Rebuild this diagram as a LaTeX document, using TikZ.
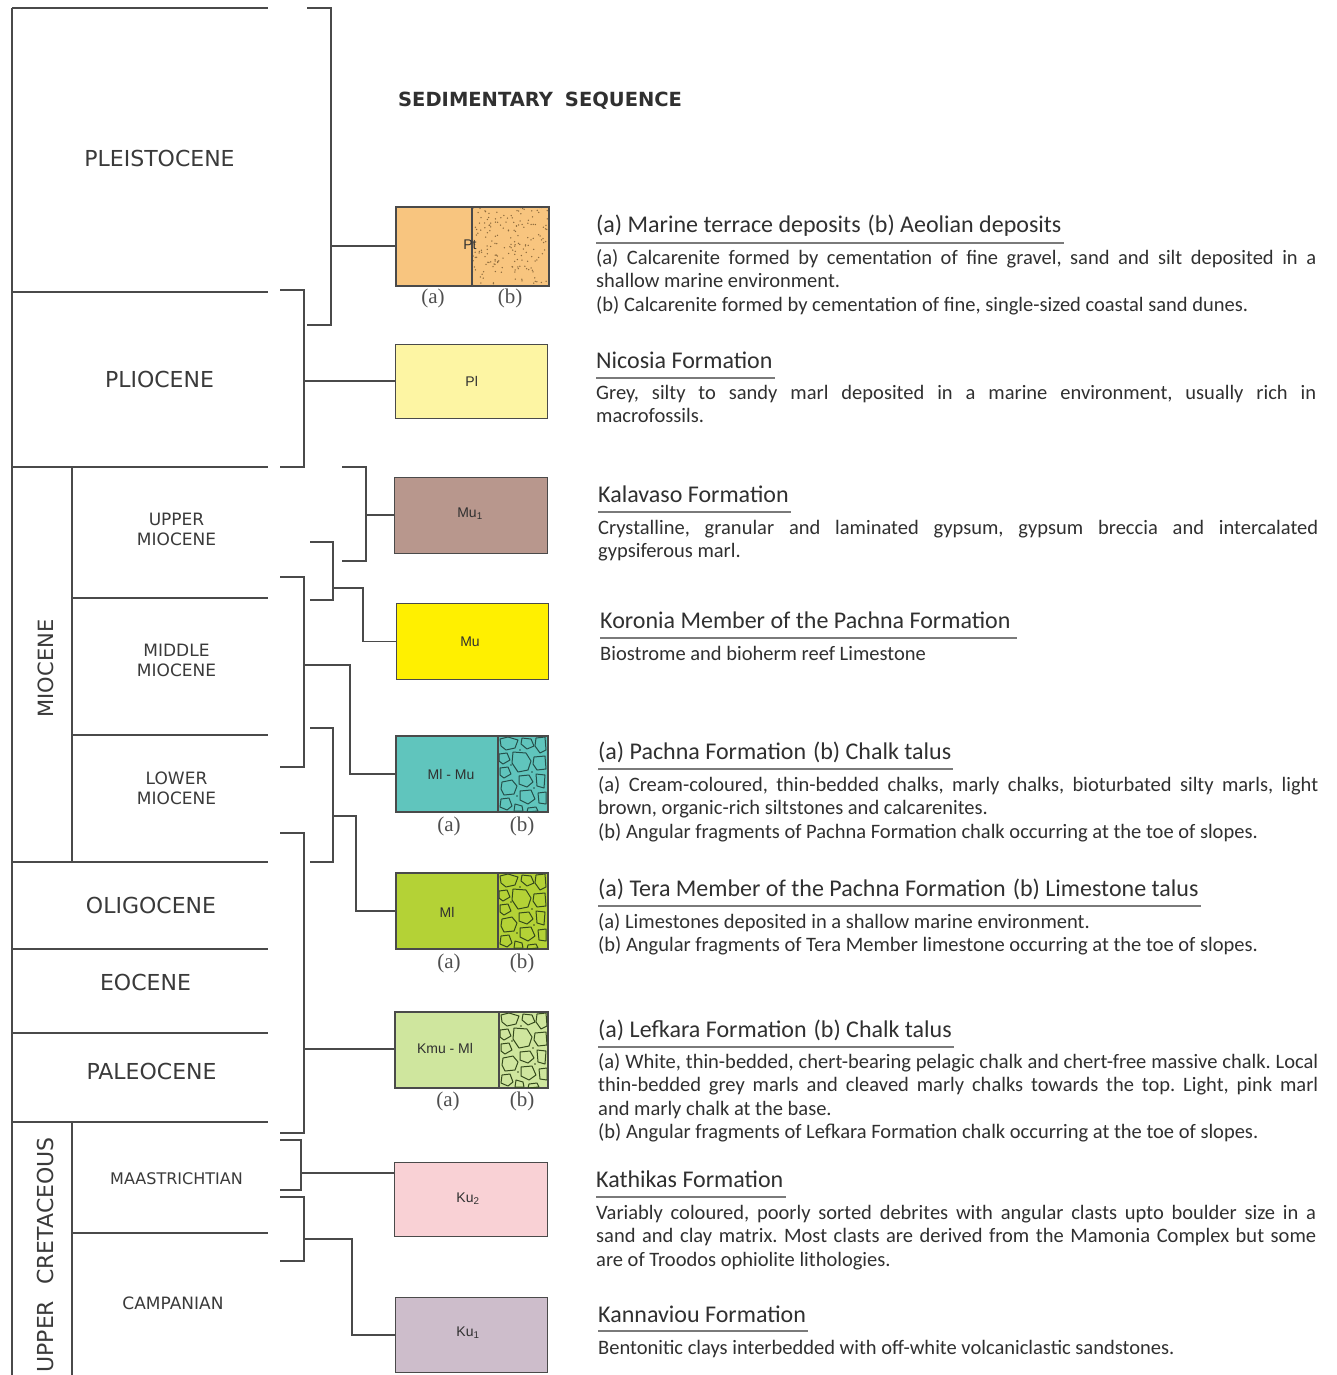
\documentclass[tikz,border=0pt]{standalone}
\usepackage{fontspec}
\setmainfont{Carlito}
\newfontfamily\chartfont{DejaVu Sans}
\newfontfamily\boxfont{Liberation Sans}
\newfontfamily\abfont{Liberation Serif}
\usetikzlibrary{calc}
\frenchspacing
\definecolor{ink}{HTML}{303030}
\definecolor{chartink}{HTML}{3A3A3A}
\definecolor{linegray}{HTML}{4A4A4A}
\definecolor{ulgray}{HTML}{7A7A7A}
\definecolor{cPt}{HTML}{F8C57F}
\definecolor{cPl}{HTML}{FDF5A3}
\definecolor{cMuA}{HTML}{B8978D}
\definecolor{cMu}{HTML}{FFF000}
\definecolor{cMlMu}{HTML}{60C5BD}
\definecolor{cMl}{HTML}{B4D236}
\definecolor{cKmu}{HTML}{CFE69E}
\definecolor{cKuB}{HTML}{F9D1D5}
\definecolor{cKuA}{HTML}{CDBDCB}
\definecolor{dotbrown}{HTML}{8C6A3C}
\definecolor{brTeal}{HTML}{25504B}
\definecolor{brGreen}{HTML}{344A1C}

\newcommand\mybreccia[1]{%
  \begin{scope}[draw=#1, line width=1pt, line join=round]
    \draw (2,3)--(10,1)--(20,4)--(17,12)--(8,14)--(3,10)--cycle;
    \draw (24,2)--(33,3)--(36,10)--(29,13)--(23,8)--cycle;
    \draw (38,2)--(47,1)--(48,14)--(42,17)--(37,10)--cycle;
    \draw (1,18)--(9,17)--(12,24)--(5,28)--(1,25)--cycle;
    \draw (15,16)--(28,17)--(33,25)--(30,34)--(20,36)--(14,27)--cycle;
    \draw (36,21)--(47,20)--(48,33)--(39,34)--(35,28)--cycle;
    \draw (2,32)--(10,31)--(13,38)--(6,42)--(2,39)--cycle;
    \draw (4,46)--(14,44)--(19,50)--(16,58)--(6,59)--(3,53)--cycle;
    \draw (21,40)--(31,39)--(35,46)--(29,51)--(21,48)--cycle;
    \draw (38,38)--(47,39)--(46,52)--(39,50)--cycle;
    \draw (22,55)--(33,54)--(37,63)--(30,68)--(22,64)--cycle;
    \draw (40,57)--(48,56)--(48,68)--(41,67)--cycle;
    \draw (3,63)--(11,62)--(14,70)--(9,74)--(2,71)--cycle;
    \draw (17,68)--(24,70)--(25,75)--(16,75)--cycle;
    \draw (30,72)--(38,71)--(40,75)--(29,76)--cycle;
    \fill[#1] (13,29) circle (0.8pt) (34,36) circle (0.8pt) (19,60) circle (0.8pt) (36,52) circle (0.8pt) (22,14) circle (0.8pt);
  \end{scope}}

\begin{document}
\begin{tikzpicture}[x=1pt,y=-1pt,
  chartline/.style={draw=linegray, line width=1.6pt},
  conn/.style={draw=linegray, line width=1.5pt},
  bigera/.style={font=\chartfont\fontsize{22}{26}\selectfont, text=chartink, inner sep=0pt},
  smallera/.style={font=\chartfont\fontsize{17}{20}\selectfont, text=chartink, inner sep=0pt, align=center},
  unitbox/.style={draw=linegray, line width=1.3pt, anchor=north west, inner sep=0pt},
  boxlabel/.style={font=\boxfont\fontsize{14}{16}\selectfont, text=ink, inner sep=0pt},
  ablabel/.style={font=\abfont\fontsize{21}{24}\selectfont, text=ink!85, inner sep=0pt},
  headtext/.style={anchor=base west, inner sep=0pt, font=\fontsize{24}{28}\selectfont, text=ink},
  bodytext/.style={anchor=base west, inner sep=0pt, text width=720pt, align=justify, font=\fontsize{20.5}{23.5}\selectfont, text=ink},
  uline/.style={draw=ulgray, line width=1.1pt}
]
\useasboundingbox (0,0) rectangle (1336,1375);
\clip (0,0) rectangle (1336,1375);
\fill[white] (0,0) rectangle (1336,1375);

% ---------------- time scale ----------------
\draw[chartline] (12,8) -- (12,1380);
\foreach \yy in {8,292,467,862,949,1033,1122}{\draw[chartline] (12,\yy) -- (268,\yy);}
\draw[chartline] (72,467) -- (72,862);
\draw[chartline] (72,1122) -- (72,1380);
\foreach \yy in {598,735,1233}{\draw[chartline] (72,\yy) -- (268,\yy);}

\node[bigera] (pleist) at (159.5,158.5) {PLEISTOCENE};
\node[bigera] (plio) at (159.5,379.5) {PLIOCENE};
\node[smallera] (umio) at (176.5,529.5) {UPPER\\MIOCENE};
\node[smallera] (mmio) at (176.5,660.5) {MIDDLE\\MIOCENE};
\node[smallera] (lmio) at (176.5,788) {LOWER\\MIOCENE};
\node[bigera, font=\chartfont\fontsize{21}{25}\selectfont, rotate=90] (mio) at (46,668.5) {MIOCENE};
\node[bigera] (oligo) at (151,905) {OLIGOCENE};
\node[bigera] (eoc) at (145.5,982) {EOCENE};
\node[bigera] (paleo) at (151.5,1071) {PALEOCENE};
\node[smallera, font=\chartfont\fontsize{16}{20}\selectfont] (maas) at (176.5,1179) {MAASTRICHTIAN};
\node[smallera] (camp) at (173,1303) {CAMPANIAN};
\node[bigera, rotate=90, anchor=east] (ucret) at (45,1137) {UPPER\hspace{16pt}CRETACEOUS};

% ---------------- title ----------------
\node[anchor=base west, inner sep=0pt, font=\chartfont\bfseries\fontsize{19.5}{22}\selectfont, text=ink] (title) at (398,107) {SEDIMENTARY\hspace{12pt}SEQUENCE};

% ---------------- unit boxes ----------------
\node[unitbox, fill=cPt, minimum width=152pt, minimum height=78pt] (Pt) at (396,207) {};
\begin{scope}
  \clip (472,207) rectangle (548,285);
  \pgfmathsetseed{11}
  \foreach \i in {1,...,190}{
    \pgfmathsetmacro\dx{472+rnd*76}
    \pgfmathsetmacro\dy{207+rnd*78}
    \fill[dotbrown] (\dx,\dy) circle (0.75pt);
  }
\end{scope}
\draw[linegray, line width=1.3pt] (472,207) -- (472,285);
\draw[linegray, line width=1.3pt] (Pt.north west) rectangle (Pt.south east);
\node[boxlabel] at (470,245) {Pt};

\node[unitbox, fill=cPl, minimum width=152pt, minimum height=74pt] (Pl) at (395,344) {};
\node[boxlabel] at (Pl.center) {Pl};

\node[unitbox, fill=cMuA, minimum width=153pt, minimum height=76pt] (MuA) at (394,477) {};
\node[boxlabel] at (470,514) {Mu\textsubscript{1}};

\node[unitbox, fill=cMu, minimum width=152pt, minimum height=76pt] (Mu) at (396,603) {};
\node[boxlabel] at (470,642) {Mu};

\node[unitbox, fill=cMlMu, minimum width=151pt, minimum height=75pt] (MlMu) at (396,736) {};
\begin{scope}
  \clip (498,736) rectangle (547,811);
  \begin{scope}[shift={(498,736)}]\mybreccia{brTeal}\end{scope}
\end{scope}
\draw[linegray, line width=1.3pt] (498,736) -- (498,811);
\draw[linegray, line width=1.3pt] (MlMu.north west) rectangle (MlMu.south east);
\node[boxlabel] at (451,774) {Ml - Mu};

\node[unitbox, fill=cMl, minimum width=151pt, minimum height=75pt] (Ml) at (396,873) {};
\begin{scope}
  \clip (498,873) rectangle (547,948);
  \begin{scope}[shift={(498,873)}]\mybreccia{brGreen}\end{scope}
\end{scope}
\draw[linegray, line width=1.3pt] (498,873) -- (498,948);
\draw[linegray, line width=1.3pt] (Ml.north west) rectangle (Ml.south east);
\node[boxlabel] at (447,912) {Ml};

\node[unitbox, fill=cKmu, minimum width=152pt, minimum height=75pt] (Kmu) at (395,1012) {};
\begin{scope}
  \clip (499,1012) rectangle (547,1087);
  \begin{scope}[shift={(499,1012)}]\mybreccia{brGreen}\end{scope}
\end{scope}
\draw[linegray, line width=1.3pt] (499,1012) -- (499,1087);
\draw[linegray, line width=1.3pt] (Kmu.north west) rectangle (Kmu.south east);
\node[boxlabel] at (445,1048) {Kmu - Ml};

\node[unitbox, fill=cKuB, minimum width=153pt, minimum height=74pt] (KuB) at (394,1162) {};
\node[boxlabel] at (468,1199) {Ku\textsubscript{2}};

\node[unitbox, fill=cKuA, minimum width=152pt, minimum height=75pt] (KuA) at (395,1297) {};
\node[boxlabel] at (468,1333) {Ku\textsubscript{1}};

% (a)/(b) labels
\node[ablabel] at (433,298) {(a)};
\node[ablabel] at (510,298) {(b)};
\node[ablabel] at (449,826) {(a)};
\node[ablabel] at (522,826) {(b)};
\node[ablabel] at (449,963) {(a)};
\node[ablabel] at (522,963) {(b)};
\node[ablabel] at (448,1101) {(a)};
\node[ablabel] at (522,1101) {(b)};

% ---------------- brackets / connectors ----------------
\draw[conn] (307,8) -- (331,8) -- (331,325) -- (307,325);
\coordinate (tPt) at (331,246);
\draw[conn] (tPt) -- (tPt -| Pt.west);

\draw[conn] (280,290) -- (304,290) -- (304,467) -- (280,467);
\coordinate (tPl) at (304,381);
\draw[conn] (tPl) -- (tPl -| Pl.west);

\draw[conn] (342,467) -- (366,467) -- (366,561) -- (342,561);
\coordinate (tMuA) at (366,515);
\draw[conn] (tMuA) -- (tMuA -| MuA.west);

\draw[conn] (310,542) -- (333,542) -- (333,600) -- (310,600);
\coordinate (tMu) at (333,588);
\draw[conn] (tMu) -- ++(30,0) |- (Mu.west);

\draw[conn] (280,577) -- (304,577) -- (304,767) -- (280,767);
\coordinate (tMlMu) at (304,665);
\draw[conn] (tMlMu) -- ++(46,0) |- (MlMu.west);

\draw[conn] (310,728) -- (333,728) -- (333,862) -- (310,862);
\coordinate (tMl) at (333,816);
\draw[conn] (tMl) -- ++(23,0) |- (Ml.west);

\draw[conn] (280,833) -- (304,833) -- (304,1133) -- (280,1133);
\coordinate (tKmu) at (304,1049);
\draw[conn] (tKmu) -- (tKmu -| Kmu.west);

\draw[conn] (280,1140) -- (301,1140) -- (301,1190) -- (280,1190);
\coordinate (tKuB) at (301,1173);
\draw[conn] (tKuB) -- (tKuB -| KuB.west);

\draw[conn] (280,1197) -- (304,1197) -- (304,1261) -- (280,1261);
\coordinate (tKuA) at (304,1239);
\draw[conn] (tKuA) -- ++(48,0) |- (KuA.west);

% ---------------- descriptions ----------------
\node[headtext] (h1) at (596,233) {(a) Marine terrace deposits\hspace{7pt}(b) Aeolian deposits};
\draw[uline] ($(h1.base west)+(0,10)$) -- ($(h1.base east)+(2,10)$);
\node[bodytext] (b1) at ($(h1.base west)+(0,31)$) {(a) Calcarenite formed by cementation of fine gravel, sand and silt deposited in a\linebreak shallow marine environment.\par(b) Calcarenite formed by cementation of fine, single-sized coastal sand dunes.};

\node[headtext] (h2) at (596,368) {Nicosia Formation};
\draw[uline] ($(h2.base west)+(0,10)$) -- ($(h2.base east)+(2,10)$);
\node[bodytext] (b2) at ($(h2.base west)+(0,31)$) {Grey, silty to sandy marl deposited in a marine environment, usually rich in\linebreak macrofossils.};

\node[headtext] (h3) at (598,502) {Kalavaso Formation};
\draw[uline] ($(h3.base west)+(0,10)$) -- ($(h3.base east)+(2,10)$);
\node[bodytext] (b3) at ($(h3.base west)+(0,32)$) {Crystalline, granular and laminated gypsum, gypsum breccia and intercalated\linebreak gypsiferous marl.};

\node[headtext] (h4) at (600,628) {Koronia Member of the Pachna Formation};
\draw[uline] ($(h4.base west)+(0,10)$) -- ($(h4.base east)+(6,10)$);
\node[bodytext] (b4) at ($(h4.base west)+(0,32)$) {Biostrome and bioherm reef Limestone};

\node[headtext] (h5) at (598,759) {(a) Pachna Formation\hspace{7pt}(b) Chalk talus};
\draw[uline] ($(h5.base west)+(0,10)$) -- ($(h5.base east)+(2,10)$);
\node[bodytext] (b5) at ($(h5.base west)+(0,32)$) {(a) Cream-coloured, thin-bedded chalks, marly chalks, bioturbated silty marls, light\linebreak brown, organic-rich siltstones and calcarenites.\par(b) Angular fragments of Pachna Formation chalk occurring at the toe of slopes.};

\node[headtext] (h6) at (598,896) {(a) Tera Member of the Pachna Formation\hspace{7pt}(b) Limestone talus};
\draw[uline] ($(h6.base west)+(0,10)$) -- ($(h6.base east)+(2,10)$);
\node[bodytext] (b6) at ($(h6.base west)+(0,32)$) {(a) Limestones deposited in a shallow marine environment.\par(b) Angular fragments of Tera Member limestone occurring at the toe of slopes.};

\node[headtext] (h7) at (598,1037) {(a) Lefkara Formation\hspace{7pt}(b) Chalk talus};
\draw[uline] ($(h7.base west)+(0,10)$) -- ($(h7.base east)+(2,10)$);
\node[bodytext] (b7) at ($(h7.base west)+(0,31)$) {(a) White, thin-bedded, chert-bearing pelagic chalk and chert-free massive chalk. Local\linebreak thin-bedded grey marls and cleaved marly chalks towards the top. Light, pink marl\linebreak and marly chalk at the base.\par(b) Angular fragments of Lefkara Formation chalk occurring at the toe of slopes.};

\node[headtext] (h8) at (596,1187) {Kathikas Formation};
\draw[uline] ($(h8.base west)+(0,10)$) -- ($(h8.base east)+(2,10)$);
\node[bodytext] (b8) at ($(h8.base west)+(0,32)$) {Variably coloured, poorly sorted debrites with angular clasts upto boulder size in a\linebreak sand and clay matrix. Most clasts are derived from the Mamonia Complex but some\linebreak are of Troodos ophiolite lithologies.};

\node[headtext] (h9) at (598,1322) {Kannaviou Formation};
\draw[uline] ($(h9.base west)+(0,9)$) -- ($(h9.base east)+(2,9)$);
\node[bodytext] (b9) at ($(h9.base west)+(0,32)$) {Bentonitic clays interbedded with off-white volcaniclastic sandstones.};
\end{tikzpicture}
\end{document}
